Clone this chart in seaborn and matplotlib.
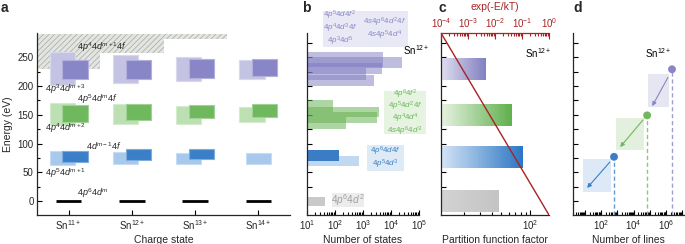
import numpy as np
import matplotlib
matplotlib.use("Agg")
import matplotlib.pyplot as plt
import seaborn as sns
from matplotlib.patches import Rectangle
from matplotlib.colors import to_rgb
from matplotlib.ticker import (LogLocator, NullFormatter,
                               MultipleLocator, FuncFormatter)

# ---------------- data ----------------
charge_states = ["Sn$^{11+}$", "Sn$^{12+}$", "Sn$^{13+}$", "Sn$^{14+}$"]

# panel a: energy ranges (eV) of configuration groups per charge state
purple_light_lo = [202, 206, 209, 212]
purple_light_hi = [259, 253, 251, 245]
purple_dark_lo = [212, 213, 214, 217]
purple_dark_hi = [245, 245, 247, 246]
green_light_lo = [132, 134, 134, 137]
green_light_hi = [171, 168, 166, 164]
green_dark_lo = [137, 141, 144, 147]
green_dark_hi = [167, 169, 167, 168]
blue_light_lo = [63, 64, 64, 64]
blue_light_hi = [87, 85, 83, 83]
blue_dark_lo = [68, 71, 74, np.nan]
blue_dark_hi = [87.5, 90, 90, np.nan]
ground_energy = [0, 0, 0, 0]
hatch_threshold = [230, 257, 281]

# panel b: number of states per configuration (Sn12+)
b_purple_lo = [233, 231, 220, 210, 200]
b_purple_hi = [259, 250, 240, 231, 219]
b_purple_states = [5100, 24000, 4800, 1300, 2500]
b_green_lo = [155, 146, 135, 125]
b_green_hi = [175, 163, 155, 146]
b_green_states = [85, 3700, 3200, 245]
b_blue_lo = [61, 70]
b_blue_hi = [78, 89]
b_blue_states = [720, 140]
b_grey_lo = [-9]
b_grey_hi = [7]
b_grey_states = [44]

# panel c: partition function factor
c_energy = [0, 77, 149, 229]
c_factor = [47, 84, 64, 34]
c_height = 38
line_energy = [292, -24]
line_boltzmann = [1e-4, 1.0]

# panel d: number of lines
d_energy = [77, 149, 229]
d_lines = [630, 6.8e4, 2.3e6]
d_box_x = [(7.8, 4.2e2), (8.3e2, 4.5e4), (7.8e4, 1.5e6)]
d_box_e = [(16, 73), (89, 144), (163, 220)]
d_arrow_start = [(3.5e2, 68), (3.8e4, 141), (1.3e6, 215)]
d_arrow_end = [(14, 23), (1.5e3, 94), (1.4e5, 165)]

ylim = (-24, 292)

# ---------------- style ----------------
sns.set_theme(context="paper", style="ticks")
plt.rcParams['font.family'] = ['Liberation Sans', 'DejaVu Sans']
plt.rcParams['mathtext.fontset'] = 'custom'
plt.rcParams['mathtext.rm'] = 'Liberation Sans'
plt.rcParams['mathtext.it'] = 'Liberation Sans:italic'
plt.rcParams['mathtext.bf'] = 'Liberation Sans:bold'
plt.rcParams['hatch.linewidth'] = 0.5
plt.rcParams['axes.linewidth'] = 0.9

PUR_D, PUR_L = "#8886c6", "#c4c3e3"
GRN_D, GRN_L = "#70b85e", "#bde0b3"
BLU_D, BLU_L = "#3a7fc8", "#a8c9ec"
RED = "#a82323"

fig = plt.figure(figsize=(6.85, 2.44), dpi=100)
W, H = 685, 244
def fx(p): return p / W
def fy(p): return 1 - p / H

ax_a = fig.add_axes([fx(37), fy(215), 253 / W, 182 / H])
ax_b = fig.add_axes([fx(307), fy(215), 112 / W, 182 / H])
ax_c = fig.add_axes([fx(441), fy(215), 108 / W, 182 / H])
ax_d = fig.add_axes([fx(573), fy(215), 111 / W, 182 / H])

def lighten(c, f):
    r = np.array(to_rgb(c))
    return tuple(r + (1 - r) * f)

for ax in (ax_a, ax_b, ax_c, ax_d):
    ax.set_ylim(*ylim)
    for s in ("top", "right"):
        ax.spines[s].set_visible(False)
    ax.tick_params(axis="both", which="both", direction="in", width=0.8,
                   labelsize=7, pad=2.5, color="black")
    ax.tick_params(which="major", length=3.5)
    ax.tick_params(which="minor", length=2)

# ---------------- panel a ----------------
x = np.arange(len(charge_states))
ax_a.set_xlim(-0.5, 3.5)
ax_a.fill_between([-0.5, 0.5, 1.5, 2.5], hatch_threshold + [hatch_threshold[-1]],
                  290, step="post", facecolor="#e3e5e1", edgecolor="#a4a8a0",
                  hatch="//////", linewidth=0, zorder=1)

def boxes(lo, hi, col, off, width=0.4, center_if=None):
    for i, (l, h) in enumerate(zip(lo, hi)):
        if np.isnan(l):
            continue
        o = off
        if center_if is not None and np.isnan(center_if[i]):
            o = -width / 2
        ax_a.bar(x[i] + o, h - l, bottom=l, width=width, align="edge",
                 color=col, edgecolor=lighten(col, 0.35), linewidth=0.8, zorder=2)

boxes(purple_light_lo, purple_light_hi, PUR_L, -0.3)
boxes(purple_dark_lo, purple_dark_hi, PUR_D, -0.1)
boxes(green_light_lo, green_light_hi, GRN_L, -0.3)
boxes(green_dark_lo, green_dark_hi, GRN_D, -0.1)
boxes(blue_light_lo, blue_light_hi, BLU_L, -0.3, center_if=blue_dark_lo)
boxes(blue_dark_lo, blue_dark_hi, BLU_D, -0.1)
ax_a.hlines(ground_energy, x - 0.2, x + 0.2, color="black", lw=2, zorder=3)

lab_kw = dict(fontsize=6.5, va="center", ha="left", zorder=5)
ax_a.text(0.14, 268, r"4$p^4$4$d^{m+1}$4$f$", **lab_kw)
ax_a.text(-0.37, 194, r"4$p^3$4$d^{m+3}$", **lab_kw)
ax_a.text(0.14, 177, r"4$p^5$4$d^m$4$f$", **lab_kw)
ax_a.text(-0.37, 126, r"4$p^4$4$d^{m+2}$", **lab_kw)
ax_a.text(0.28, 96, r"4$d^{m-1}$4$f$", **lab_kw)
ax_a.text(-0.37, 48, r"4$p^5$4$d^{m+1}$", **lab_kw)
ax_a.text(0.14, 14, r"4$p^6$4$d^m$", **lab_kw)

ax_a.set_xticks(x)
ax_a.set_xticklabels(charge_states)
ax_a.yaxis.set_major_locator(MultipleLocator(50))
ax_a.yaxis.set_minor_locator(MultipleLocator(25))
ax_a.set_xlabel("Charge state", fontsize=7.5, labelpad=2)
ax_a.set_ylabel("Energy (eV)", fontsize=7.5, labelpad=3)

# ---------------- panel b ----------------
ax_b.set_xscale("log")
ax_b.set_xlim(10, 1e5)
x0b = 10

def hbars(ax, lo, hi, vals, colors, alpha):
    for l, h, v, c in zip(lo, hi, vals, colors):
        ax.barh((l + h) / 2, v - x0b, left=x0b, height=h - l, color=c,
                alpha=alpha, linewidth=0, zorder=2)

hbars(ax_b, b_purple_lo, b_purple_hi, b_purple_states, ["#7e7bc0"] * 5, 0.5)
hbars(ax_b, b_green_lo, b_green_hi, b_green_states, ["#5fae4a"] * 4, 0.5)
hbars(ax_b, b_blue_lo, b_blue_hi, b_blue_states, ["#c0d8f0", "#3b7dc4"], 1.0)
hbars(ax_b, b_grey_lo, b_grey_hi, b_grey_states, ["#c9c9c9"], 1.0)
ax_b.xaxis.set_major_locator(LogLocator(base=10, numticks=10))
ax_b.xaxis.set_minor_locator(LogLocator(base=10, subs=np.arange(2, 10), numticks=10))
ax_b.xaxis.set_minor_formatter(NullFormatter())
ax_b.yaxis.set_major_locator(MultipleLocator(25))
ax_b.set_yticklabels([])
ax_b.set_xlabel("Number of states", fontsize=7.5, labelpad=2)

def fbox(x0, y0, x1, y1, col):
    fig.add_artist(Rectangle((fx(x0), fy(y1)), fx(x1) - fx(x0), fy(y0) - fy(y1),
                             transform=fig.transFigure, facecolor=col,
                             edgecolor="none", zorder=3))

def ftext(px, py, s, col, size=5.8, ha="center", ls=1.0):
    fig.text(fx(px), fy(py), s, color=col, fontsize=size, ha=ha, va="center",
             multialignment="center", linespacing=ls, zorder=4)

PT = "#8a88c8"
fbox(323, 11, 408, 47, "#e9e9f5")
ftext(340, 28.5, "4$p^5$4$d$4$f^2$\n4$p^4$4$d^3$4$f$\n4$p^3$4$d^5$", PT, ls=0.95)
ftext(385, 29, "4$s$4$p^6$4$d^2$4$f$\n4$s$4$p^5$4$d^4$", PT, ls=0.95)

GT = "#6cb85a"
fbox(384, 91, 426, 134, "#e6f3e1")
ftext(405, 112.5, "4$p^6$4$f^2$\n4$p^5$4$d^2$4$f$\n4$p^4$4$d^4$\n4$s$4$p^6$4$d^3$", GT,
      ls=0.88)

BT = "#3a7fc8"
fbox(367, 145, 404, 171, "#dfeaf7")
ftext(385.5, 157.5, "4$p^6$4$d$4$f$\n4$p^5$4$d^3$", BT, ls=0.95)

fbox(332, 193, 364, 207, "#ececec")
ftext(348, 200, r"4$p^6$4$d^2$", "#a0a0a0", size=7.3)

ftext(416, 50, "Sn$^{12+}$", "black", size=7)

# ---------------- panel c ----------------
ax_c.set_xscale("log")
c_xlim = (11.6, 158)
ax_c.set_xlim(*c_xlim)

def gradient_barh(ax, center, height, x1, c0, c1, n=80):
    edges = np.logspace(np.log10(c_xlim[0]), np.log10(x1), n + 1)
    a0, a1 = np.array(to_rgb(c0)), np.array(to_rgb(c1))
    for k in range(n):
        t = k / (n - 1)
        ax.barh(center, edges[k + 1] * 1.01 - edges[k], left=edges[k],
                height=height, color=tuple((1 - t) * a0 + t * a1),
                linewidth=0, antialiased=False, zorder=2)

grad_cols = [("#d2d2d2", "#c4c4c4"), ("#d4e4f5", "#2c76c3"),
             ("#e6f2e1", "#62b04e"), ("#deddef", "#8381c1")]
for e, f, (g0, g1) in zip(c_energy, c_factor, grad_cols):
    gradient_barh(ax_c, e, c_height, f, g0, g1)
ax_c.xaxis.set_major_locator(LogLocator(base=10, numticks=10))
ax_c.xaxis.set_minor_locator(LogLocator(base=10, subs=np.arange(2, 10), numticks=10))
ax_c.xaxis.set_minor_formatter(NullFormatter())
ax_c.yaxis.set_major_locator(MultipleLocator(25))
ax_c.set_yticklabels([])
ax_c.set_xlabel("Partition function factor", fontsize=7.5, labelpad=2)

ax_t = ax_c.twiny()
ax_t.set_xscale("log")
ax_t.set_xlim(1e-4, 1.0)
ax_t.set_ylim(*ylim)
sns.lineplot(x=line_boltzmann, y=line_energy, ax=ax_t, color=RED, lw=1.0,
             sort=False, estimator=None)
for s in ("left", "right", "bottom"):
    ax_t.spines[s].set_visible(False)
ax_t.spines["top"].set_color(RED)
ax_t.xaxis.set_major_locator(LogLocator(base=10, numticks=10))
ax_t.xaxis.set_minor_locator(LogLocator(base=10, subs=np.arange(2, 10), numticks=10))
ax_t.xaxis.set_minor_formatter(NullFormatter())
ax_t.tick_params(axis="x", which="both", direction="in", colors=RED,
                 labelsize=7, pad=2.5, width=0.8)
ax_t.tick_params(axis="x", which="major", length=4)
ax_t.tick_params(axis="x", which="minor", length=2)
ax_t.set_xlabel("exp(-E/kT)", color=RED, fontsize=7.5, labelpad=4)
ax_t.set_ylabel("")
ax_t.yaxis.set_visible(False)
ax_t.set_zorder(ax_c.get_zorder() + 1)
ftext(538, 53, "Sn$^{12+}$", "black", size=7)

# ---------------- panel d ----------------
ax_d.set_xscale("log")
ax_d.set_xlim(10 ** 0.277, 10 ** 7.1)
pal = [BLU_D, GRN_D, PUR_D]
box_cols = ["#dde9f6", "#e3f0dd", "#e6e6f3"]
for (bx0, bx1), (be0, be1), c in zip(d_box_x, d_box_e, box_cols):
    ax_d.add_patch(Rectangle((bx0, be0), bx1 - bx0, be1 - be0, facecolor=c,
                             edgecolor="none", zorder=1))
for s, e, c in zip(d_arrow_start, d_arrow_end, pal):
    ax_d.annotate("", xy=e, xytext=s,
                  arrowprops=dict(arrowstyle="-|>", color=c, lw=0.8,
                                  mutation_scale=6, shrinkA=0, shrinkB=0),
                  zorder=2)
ax_d.vlines(d_lines, ylim[0], d_energy, colors=[lighten(c, 0.2) for c in pal],
            linestyles=(0, (3, 2)), lw=1.0, zorder=2)
sns.scatterplot(x=d_lines, y=d_energy, hue=["b", "g", "p"],
                palette=dict(zip(["b", "g", "p"], pal)), s=32, linewidth=0,
                legend=False, ax=ax_d, zorder=4)
ax_d.set_ylim(*ylim)
ax_d.xaxis.set_major_locator(LogLocator(base=10, numticks=12))
ax_d.xaxis.set_major_formatter(FuncFormatter(
    lambda v, p: (r"$10^{%d}$" % int(round(np.log10(v))))
    if int(round(np.log10(v))) in (2, 4, 6) else ""))
ax_d.xaxis.set_minor_locator(LogLocator(base=10, subs=np.arange(2, 10), numticks=12))
ax_d.xaxis.set_minor_formatter(NullFormatter())
ax_d.yaxis.set_major_locator(MultipleLocator(25))
ax_d.set_yticklabels([])
ax_d.set_xlabel("Number of lines", fontsize=7.5, labelpad=2)
ax_d.set_ylabel("")
ftext(658, 53, "Sn$^{12+}$", "black", size=7)

# panel letters
for px, s in [(1, "a"), (302, "b"), (439, "c"), (573, "d")]:
    fig.text(fx(px), fy(1), s, fontsize=10, fontweight="bold", ha="left", va="top")

fig.savefig("out.png", dpi=100)
